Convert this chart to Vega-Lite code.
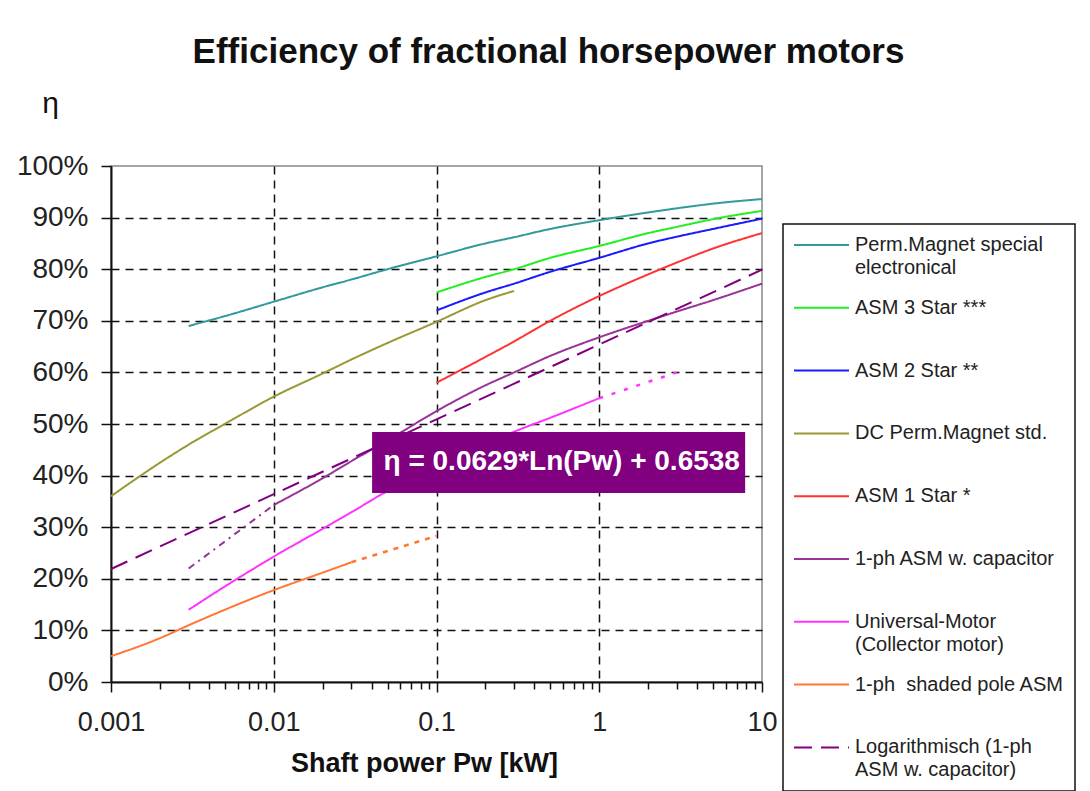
{
  "$schema": "https://vega.github.io/schema/vega-lite/v6.json",
  "width": 651,
  "height": 516,
  "autosize": {"type": "none"},
  "padding": {"left": 111, "top": 166, "right": 328, "bottom": 109},
  "background": "white",
  "title": {
    "text": "Efficiency of fractional horsepower motors",
    "fontSize": 35,
    "fontWeight": "bold",
    "color": "#111111",
    "anchor": "middle",
    "frame": "group",
    "dx": 112,
    "offset": 18
  },
  "datasets": {
    "curves": [
      {"series": "Perm.Magnet special electronical", "P": 0.003, "eta": 0.69},
      {"series": "Perm.Magnet special electronical", "P": 0.005, "eta": 0.709},
      {"series": "Perm.Magnet special electronical", "P": 0.01, "eta": 0.737},
      {"series": "Perm.Magnet special electronical", "P": 0.02, "eta": 0.765},
      {"series": "Perm.Magnet special electronical", "P": 0.03, "eta": 0.78},
      {"series": "Perm.Magnet special electronical", "P": 0.05, "eta": 0.8},
      {"series": "Perm.Magnet special electronical", "P": 0.1, "eta": 0.825},
      {"series": "Perm.Magnet special electronical", "P": 0.2, "eta": 0.85},
      {"series": "Perm.Magnet special electronical", "P": 0.3, "eta": 0.862},
      {"series": "Perm.Magnet special electronical", "P": 0.5, "eta": 0.878},
      {"series": "Perm.Magnet special electronical", "P": 1, "eta": 0.895},
      {"series": "Perm.Magnet special electronical", "P": 2, "eta": 0.91},
      {"series": "Perm.Magnet special electronical", "P": 3, "eta": 0.918},
      {"series": "Perm.Magnet special electronical", "P": 5, "eta": 0.927},
      {"series": "Perm.Magnet special electronical", "P": 10, "eta": 0.936},
      {"series": "ASM 3 Star ***", "P": 0.1, "eta": 0.755},
      {"series": "ASM 3 Star ***", "P": 0.2, "eta": 0.785},
      {"series": "ASM 3 Star ***", "P": 0.3, "eta": 0.8},
      {"series": "ASM 3 Star ***", "P": 0.5, "eta": 0.822},
      {"series": "ASM 3 Star ***", "P": 1, "eta": 0.845},
      {"series": "ASM 3 Star ***", "P": 2, "eta": 0.87},
      {"series": "ASM 3 Star ***", "P": 3, "eta": 0.882},
      {"series": "ASM 3 Star ***", "P": 5, "eta": 0.897},
      {"series": "ASM 3 Star ***", "P": 10, "eta": 0.913},
      {"series": "ASM 2 Star **", "P": 0.1, "eta": 0.72},
      {"series": "ASM 2 Star **", "P": 0.2, "eta": 0.755},
      {"series": "ASM 2 Star **", "P": 0.3, "eta": 0.772},
      {"series": "ASM 2 Star **", "P": 0.5, "eta": 0.795},
      {"series": "ASM 2 Star **", "P": 1, "eta": 0.822},
      {"series": "ASM 2 Star **", "P": 2, "eta": 0.85},
      {"series": "ASM 2 Star **", "P": 3, "eta": 0.863},
      {"series": "ASM 2 Star **", "P": 5, "eta": 0.878},
      {"series": "ASM 2 Star **", "P": 10, "eta": 0.898},
      {"series": "DC Perm.Magnet std.", "P": 0.001, "eta": 0.36},
      {"series": "DC Perm.Magnet std.", "P": 0.002, "eta": 0.425},
      {"series": "DC Perm.Magnet std.", "P": 0.003, "eta": 0.46},
      {"series": "DC Perm.Magnet std.", "P": 0.005, "eta": 0.5},
      {"series": "DC Perm.Magnet std.", "P": 0.01, "eta": 0.553},
      {"series": "DC Perm.Magnet std.", "P": 0.02, "eta": 0.598},
      {"series": "DC Perm.Magnet std.", "P": 0.03, "eta": 0.625},
      {"series": "DC Perm.Magnet std.", "P": 0.05, "eta": 0.657},
      {"series": "DC Perm.Magnet std.", "P": 0.1, "eta": 0.698},
      {"series": "DC Perm.Magnet std.", "P": 0.2, "eta": 0.74},
      {"series": "DC Perm.Magnet std.", "P": 0.3, "eta": 0.758},
      {"series": "ASM 1 Star *", "P": 0.1, "eta": 0.58},
      {"series": "ASM 1 Star *", "P": 0.2, "eta": 0.63},
      {"series": "ASM 1 Star *", "P": 0.3, "eta": 0.66},
      {"series": "ASM 1 Star *", "P": 0.5, "eta": 0.7},
      {"series": "ASM 1 Star *", "P": 1, "eta": 0.748},
      {"series": "ASM 1 Star *", "P": 2, "eta": 0.79},
      {"series": "ASM 1 Star *", "P": 3, "eta": 0.813},
      {"series": "ASM 1 Star *", "P": 5, "eta": 0.84},
      {"series": "ASM 1 Star *", "P": 10, "eta": 0.87},
      {"series": "1-ph ASM w. capacitor", "P": 0.01, "eta": 0.343},
      {"series": "1-ph ASM w. capacitor", "P": 0.02, "eta": 0.395},
      {"series": "1-ph ASM w. capacitor", "P": 0.03, "eta": 0.428},
      {"series": "1-ph ASM w. capacitor", "P": 0.05, "eta": 0.468},
      {"series": "1-ph ASM w. capacitor", "P": 0.1, "eta": 0.525},
      {"series": "1-ph ASM w. capacitor", "P": 0.2, "eta": 0.575},
      {"series": "1-ph ASM w. capacitor", "P": 0.3, "eta": 0.6},
      {"series": "1-ph ASM w. capacitor", "P": 0.5, "eta": 0.632},
      {"series": "1-ph ASM w. capacitor", "P": 1, "eta": 0.668},
      {"series": "1-ph ASM w. capacitor", "P": 2, "eta": 0.7},
      {"series": "1-ph ASM w. capacitor", "P": 3, "eta": 0.718},
      {"series": "1-ph ASM w. capacitor", "P": 5, "eta": 0.74},
      {"series": "1-ph ASM w. capacitor", "P": 10, "eta": 0.772},
      {"series": "Universal-Motor (Collector motor)", "P": 0.003, "eta": 0.14},
      {"series": "Universal-Motor (Collector motor)", "P": 0.005, "eta": 0.185},
      {"series": "Universal-Motor (Collector motor)", "P": 0.01, "eta": 0.243},
      {"series": "Universal-Motor (Collector motor)", "P": 0.02, "eta": 0.297},
      {"series": "Universal-Motor (Collector motor)", "P": 0.03, "eta": 0.329},
      {"series": "Universal-Motor (Collector motor)", "P": 0.05, "eta": 0.37},
      {"series": "Universal-Motor (Collector motor)", "P": 0.1, "eta": 0.414},
      {"series": "Universal-Motor (Collector motor)", "P": 0.2, "eta": 0.46},
      {"series": "Universal-Motor (Collector motor)", "P": 0.3, "eta": 0.485},
      {"series": "Universal-Motor (Collector motor)", "P": 0.5, "eta": 0.512},
      {"series": "Universal-Motor (Collector motor)", "P": 1, "eta": 0.55},
      {"series": "1-ph  shaded pole ASM", "P": 0.001, "eta": 0.05},
      {"series": "1-ph  shaded pole ASM", "P": 0.002, "eta": 0.085},
      {"series": "1-ph  shaded pole ASM", "P": 0.003, "eta": 0.11},
      {"series": "1-ph  shaded pole ASM", "P": 0.005, "eta": 0.14},
      {"series": "1-ph  shaded pole ASM", "P": 0.01, "eta": 0.178},
      {"series": "1-ph  shaded pole ASM", "P": 0.02, "eta": 0.212},
      {"series": "1-ph  shaded pole ASM", "P": 0.03, "eta": 0.232},
      {"series": "Logarithmisch (1-ph ASM w. capacitor)", "P": 0.001, "eta": 0.219},
      {"series": "Logarithmisch (1-ph ASM w. capacitor)", "P": 0.01, "eta": 0.364},
      {"series": "Logarithmisch (1-ph ASM w. capacitor)", "P": 0.1, "eta": 0.509},
      {"series": "Logarithmisch (1-ph ASM w. capacitor)", "P": 1, "eta": 0.654},
      {"series": "Logarithmisch (1-ph ASM w. capacitor)", "P": 10, "eta": 0.799}
    ],
    "ext": [
      {"series": "1-ph ASM w. capacitor", "P": 0.003, "eta": 0.22},
      {"series": "1-ph ASM w. capacitor", "P": 0.01, "eta": 0.343},
      {"series": "Universal-Motor (Collector motor)", "P": 1, "eta": 0.55},
      {"series": "Universal-Motor (Collector motor)", "P": 3, "eta": 0.6},
      {"series": "1-ph  shaded pole ASM", "P": 0.03, "eta": 0.232},
      {"series": "1-ph  shaded pole ASM", "P": 0.1, "eta": 0.283}
    ],
    "box": [
      {"P": 0.0402, "P2": 7.88, "eta": 0.4845, "eta2": 0.3663}
    ],
    "note": [
      {"P": 0.588, "eta": 0.4264, "label": "η = 0.0629*Ln(Pᴡ) + 0.6538"}
    ]
  },
  "layer": [
    {
      "data": {"name": "curves"},
      "mark": {"type": "line", "interpolate": "monotone"},
      "encoding": {
        "x": {
          "field": "P",
          "type": "quantitative",
          "title": "Shaft power Pᴡ [kW]",
          "scale": {"type": "log", "domain": [0.001, 10]},
          "axis": {
            "values": [0.001, 0.002, 0.003, 0.004, 0.005, 0.006, 0.007, 0.008, 0.009, 0.01, 0.02, 0.03, 0.04, 0.05, 0.06, 0.07, 0.08, 0.09, 0.1, 0.2, 0.3, 0.4, 0.5, 0.6, 0.7, 0.8, 0.9, 1, 2, 3, 4, 5, 6, 7, 8, 9, 10],
            "labelExpr": "abs(log(datum.value)/LN10 - round(log(datum.value)/LN10)) < 0.01 ? format(datum.value, '~g') : ''",
            "labelOverlap": false,
            "labelFlush": false,
            "labelFontSize": 27,
            "labelColor": "#222222",
            "labelPadding": 17,
            "tickSize": {"condition": {"test": "abs(log(datum.value)/LN10 - round(log(datum.value)/LN10)) < 0.01", "value": 10}, "value": 7},
            "tickColor": "#111111",
            "tickWidth": 1.5,
            "grid": true,
            "gridColor": "#111111",
            "gridDash": [8, 6],
            "gridWidth": 1.5,
            "gridOpacity": {"condition": {"test": "abs(log(datum.value)/LN10 - round(log(datum.value)/LN10)) < 0.01 && datum.value > 0.0011 && datum.value < 9.5", "value": 1}, "value": 0},
            "domainColor": "#111111",
            "domainWidth": 2,
            "titleFontSize": 27,
            "titleFontWeight": "bold",
            "titleColor": "#111111",
            "titlePadding": 15,
            "titleX": 313
          }
        },
        "y": {
          "field": "eta",
          "type": "quantitative",
          "title": "η",
          "scale": {"domain": [0, 1]},
          "axis": {
            "values": [0, 0.1, 0.2, 0.3, 0.4, 0.5, 0.6, 0.7, 0.8, 0.9, 1],
            "format": ".0%",
            "labelFlush": false,
            "labelOverlap": false,
            "labelFontSize": 28,
            "labelColor": "#222222",
            "labelPadding": 13,
            "tickSize": 10,
            "tickColor": "#111111",
            "tickWidth": 1.5,
            "grid": true,
            "gridColor": "#111111",
            "gridDash": [8, 6],
            "gridWidth": 1.5,
            "gridOpacity": {"condition": {"test": "datum.value > 0.001 && datum.value < 0.999", "value": 1}, "value": 0},
            "domainColor": "#111111",
            "domainWidth": 2,
            "titleAngle": 0,
            "titleFontSize": 30,
            "titleFontWeight": "normal",
            "titleColor": "#111111",
            "titleAlign": "center",
            "titleBaseline": "middle",
            "titleX": -61,
            "titleY": -63
          }
        },
        "color": {
          "field": "series",
          "type": "nominal",
          "scale": {
            "domain": ["Perm.Magnet special electronical", "ASM 3 Star ***", "ASM 2 Star **", "DC Perm.Magnet std.", "ASM 1 Star *", "1-ph ASM w. capacitor", "Universal-Motor (Collector motor)", "1-ph  shaded pole ASM", "Logarithmisch (1-ph ASM w. capacitor)"],
            "range": ["#339999", "#22ee22", "#1a1aff", "#999933", "#ff3333", "#993399", "#ff33ff", "#ff7733", "#800080"]
          },
          "legend": {
            "title": null,
            "orient": "none",
            "legendX": 672,
            "legendY": 58,
            "direction": "vertical",
            "symbolType": "stroke",
            "symbolSize": 3025,
            "labelFontSize": 20,
            "labelColor": "#222222",
            "labelOffset": 5,
            "labelLimit": 400,
            "labelBaseline": "middle",
            "rowPadding": 18.8,
            "padding": 10,
            "strokeColor": "#111111",
            "fillColor": "white",
            "labelExpr": "datum.label == 'Perm.Magnet special electronical' ? ['Perm.Magnet special', 'electronical'] : datum.label == 'Universal-Motor (Collector motor)' ? ['Universal-Motor', '(Collector motor)'] : datum.label == 'Logarithmisch (1-ph ASM w. capacitor)' ? ['Logarithmisch (1-ph', 'ASM w. capacitor)'] : datum.label == '1-ph  shaded pole ASM' ? ['1-ph\u00a0\u00a0shaded pole ASM', ' '] : [datum.label, ' ']",
            "encode": {
              "labels": {"update": {"lineHeight": {"value": 23}, "y": {"value": 11}}},
              "symbols": {"update": {"y": {"value": 11}}},
              "legend": {"update": {"strokeWidth": {"value": 1.5}}}
            }
          }
        },
        "strokeDash": {
          "field": "series",
          "type": "nominal",
          "scale": {
            "domain": ["Perm.Magnet special electronical", "ASM 3 Star ***", "ASM 2 Star **", "DC Perm.Magnet std.", "ASM 1 Star *", "1-ph ASM w. capacitor", "Universal-Motor (Collector motor)", "1-ph  shaded pole ASM", "Logarithmisch (1-ph ASM w. capacitor)"],
            "range": [[1, 0], [1, 0], [1, 0], [1, 0], [1, 0], [1, 0], [1, 0], [1, 0], [18, 9]]
          }
        },
        "strokeWidth": {
          "field": "series",
          "type": "nominal",
          "scale": {
            "domain": ["Perm.Magnet special electronical", "ASM 3 Star ***", "ASM 2 Star **", "DC Perm.Magnet std.", "ASM 1 Star *", "1-ph ASM w. capacitor", "Universal-Motor (Collector motor)", "1-ph  shaded pole ASM", "Logarithmisch (1-ph ASM w. capacitor)"],
            "range": [2, 2, 2, 2, 2, 2, 2, 2, 4]
          }
        }
      }
    },
    {
      "data": {"name": "ext"},
      "transform": [{"filter": "datum.series == '1-ph ASM w. capacitor'"}],
      "mark": {"type": "line", "strokeWidth": 2, "strokeDash": [7, 5, 2, 5]},
      "encoding": {
        "x": {"field": "P", "type": "quantitative", "title": "Shaft power Pᴡ [kW]"},
        "y": {"field": "eta", "type": "quantitative", "title": "η"},
        "color": {"field": "series", "type": "nominal"}
      }
    },
    {
      "data": {"name": "ext"},
      "transform": [{"filter": "datum.series == 'Universal-Motor (Collector motor)'"}],
      "mark": {"type": "line", "strokeWidth": 2.5, "strokeDash": [4, 9]},
      "encoding": {
        "x": {"field": "P", "type": "quantitative", "title": "Shaft power Pᴡ [kW]"},
        "y": {"field": "eta", "type": "quantitative", "title": "η"},
        "color": {"field": "series", "type": "nominal"}
      }
    },
    {
      "data": {"name": "ext"},
      "transform": [{"filter": "datum.series == '1-ph  shaded pole ASM'"}],
      "mark": {"type": "line", "strokeWidth": 2.5, "strokeDash": [5, 6]},
      "encoding": {
        "x": {"field": "P", "type": "quantitative", "title": "Shaft power Pᴡ [kW]"},
        "y": {"field": "eta", "type": "quantitative", "title": "η"},
        "color": {"field": "series", "type": "nominal"}
      }
    },
    {
      "data": {"name": "box"},
      "mark": {"type": "rect", "color": "#800080"},
      "encoding": {
        "x": {"field": "P", "type": "quantitative", "title": "Shaft power Pᴡ [kW]"},
        "x2": {"field": "P2"},
        "y": {"field": "eta", "type": "quantitative", "title": "η"},
        "y2": {"field": "eta2"}
      }
    },
    {
      "data": {"name": "note"},
      "mark": {"type": "text", "color": "white", "fontSize": 28, "fontWeight": "bold", "align": "center", "baseline": "middle"},
      "encoding": {
        "x": {"field": "P", "type": "quantitative", "title": "Shaft power Pᴡ [kW]"},
        "y": {"field": "eta", "type": "quantitative", "title": "η"},
        "text": {"field": "label"}
      }
    }
  ],
  "config": {
    "font": "Liberation Sans",
    "view": {"stroke": "#888888", "strokeWidth": 1.5}
  }
}
